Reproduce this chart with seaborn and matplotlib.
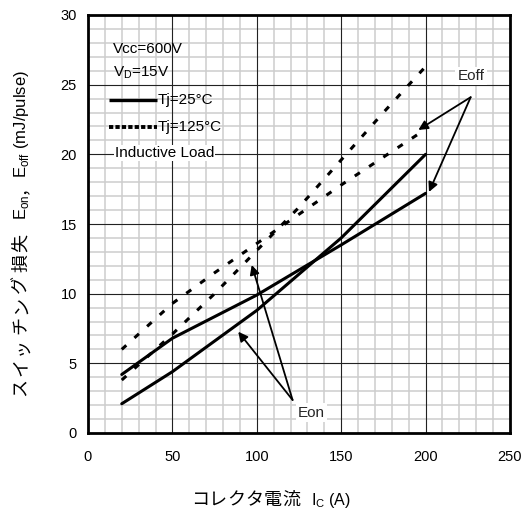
import matplotlib
matplotlib.use("Agg")
import matplotlib.pyplot as plt
import numpy as np
import pandas as pd
import seaborn as sns

# Collector current (A) and switching loss per pulse (mJ)
ic_a = [20, 50, 75, 100, 125, 150, 175, 200]
eon_25 = [2.1, 4.4, 6.6, 8.8, 11.4, 14.0, 17.0, 20.0]
eoff_25 = [4.2, 6.8, 8.35, 9.9, 11.7, 13.5, 15.35, 17.2]
eon_125 = [3.8, 7.1, 10.0, 13.1, 16.2, 19.6, 23.0, 26.3]
eoff_125 = [6.0, 9.3, 11.5, 13.6, 15.7, 17.8, 19.8, 21.8]

x_ticks = [0, 50, 100, 150, 200, 250]
y_ticks = [0, 5, 10, 15, 20, 25, 30]

LATIN = ["Liberation Sans", "DejaVu Sans"]
CJK = ["Noto Sans CJK JP", "DejaVu Sans"]

sns.set_theme(style="white")
plt.rcParams["font.family"] = LATIN
plt.rcParams["mathtext.fontset"] = "custom"
plt.rcParams["mathtext.rm"] = "Liberation Sans"

curves = [("Eon", "25", eon_25), ("Eoff", "25", eoff_25),
          ("Eon", "125", eon_125), ("Eoff", "125", eoff_125)]
df = pd.concat([
    pd.DataFrame({"Ic": ic_a, "E": vals, "curve": f"{kind}_{tj}", "Tj": tj})
    for kind, tj, vals in curves
], ignore_index=True)

W, H = 526, 513
fig = plt.figure(figsize=(W / 100, H / 100), dpi=100)
ax = fig.add_axes([88 / W, 1 - 433 / H, 422 / W, 418 / H])

sns.lineplot(data=df, x="Ic", y="E", units="curve", estimator=None,
             style="Tj", dashes={"25": "", "125": (2, 3.6)},
             color="black", linewidth=2.2, legend=False, ax=ax, zorder=3)

ax.set_xlim(0, 250)
ax.set_ylim(0, 30)
ax.set_xticks(x_ticks)
ax.set_yticks(y_ticks)
ax.set_xticks(np.arange(0, 251, 10), minor=True)
ax.set_yticks(np.arange(0, 31, 1), minor=True)
# fine grid behind, coarse grid drawn above it so crossings stay dark
ax.grid(which="minor", color="#cdcdcd", linewidth=1.1)
ax.grid(which="major", visible=False)
for v in x_ticks[1:-1]:
    ax.axvline(v, color="#222222", linewidth=0.8, zorder=1)
for v in y_ticks[1:-1]:
    ax.axhline(v, color="#222222", linewidth=0.8, zorder=1)
ax.set_axisbelow(True)
ax.tick_params(which="both", length=0, labelsize=10.5, colors="black")
ax.tick_params(axis="x", pad=12)
ax.tick_params(axis="y", pad=8)
ax.set_xlabel("")
ax.set_ylabel("")
for sp in ax.spines.values():
    sp.set_color("black")
    sp.set_linewidth(2.0)
    sp.set_zorder(6)

# Condition block and line key
txt = dict(fontsize=11, color="black", transform=ax.transAxes, va="center")
ax.text(0.059, 0.919, "Vcc=600V", ha="left", **txt)
ax.text(0.059, 0.861, r"V$_\mathregular{D}$=15V", ha="left", **txt)
ax.plot([0.05, 0.163], [0.797, 0.797], color="black", lw=2.4,
        transform=ax.transAxes, solid_capstyle="butt")
ax.text(0.166, 0.797, "Tj=25°C", ha="left", **txt)
ax.plot([0.05, 0.163], [0.732, 0.732], color="black", lw=2.8,
        linestyle=(0, (1.1, 0.55)), transform=ax.transAxes,
        dash_capstyle="butt")
ax.text(0.166, 0.732, "Tj=125°C", ha="left", **txt)
ax.text(0.064, 0.67, "Inductive Load", ha="left",
        bbox=dict(facecolor="white", edgecolor="none", pad=0.5), **txt)

# Curve callouts
arrow = dict(arrowstyle="-|>", color="black", lw=1.3, mutation_scale=14,
             shrinkA=0, shrinkB=0)
ax.text(226.9, 25.6, "Eoff", fontsize=11, ha="center", va="center",
        bbox=dict(facecolor="white", edgecolor="none", pad=1.5), zorder=4)
for head in [(195.7, 21.75), (202.0, 17.3)]:
    ax.annotate("", xy=head, xytext=(226.7, 24.1), arrowprops=arrow, zorder=5)
ax.text(132.5, 1.47, "Eon", fontsize=11, ha="center", va="center",
        bbox=dict(facecolor="white", edgecolor="none", pad=1.5), zorder=4)
for head in [(89.0, 7.27), (97.0, 12.06)]:
    ax.annotate("", xy=head, xytext=(121.2, 2.37), arrowprops=arrow, zorder=5)


def cjk(s, size, track, after):
    """Full-width glyphs, one piece each, advancing by one em plus tracking."""
    em = size * 100 / 72
    out = [(c, CJK, size, track, em) for c in s]
    out[-1] = (s[-1], CJK, size, after, em)
    return out


def chain_label(pieces, cx, cy, rotation):
    """Lay out text pieces (text, family, size, gap_after, advance) on one
    baseline.  advance=None means the measured extent is used.

    cx, cy are pixel positions (top-down); for horizontal labels cy is the
    baseline and cx the centre, for vertical labels cx is the baseline and
    cy the centre."""
    renderer = fig.canvas.get_renderer()
    items = []
    for s, fam, size, gap, adv in pieces:
        t = fig.text(0, 0, s, fontsize=size, family=fam, rotation=rotation,
                     rotation_mode="anchor", ha="left", va="baseline",
                     color="black")
        if adv is None:
            bb = t.get_window_extent(renderer)
            adv = bb.height if rotation else bb.width
        items.append((t, adv, gap))
    total = sum(l + g for _, l, g in items) - items[-1][2]
    if rotation:
        pos = cy + total / 2
        for t, l, g in items:
            t.set_position((cx / W, 1 - pos / H))
            pos -= l + g
    else:
        pos = cx - total / 2
        for t, l, g in items:
            t.set_position((pos / W, 1 - cy / H))
            pos += l + g


chain_label(cjk("コレクタ電流", 13, 0.3, 11)
            + [(r"I$_\mathregular{C}$ (A)", LATIN, 11.5, 0, None)],
            271, 505, 0)
chain_label(cjk("スイッチング損失", 13, 2.6, 14)
            + [(r"E$_\mathregular{on}$", LATIN, 12, 0, None)]
            + cjk("，", 12, 0, 0)
            + [(r"E$_\mathregular{off}$ (mJ/pulse)", LATIN, 12, 0, None)],
            26, 233, 90)

fig.savefig("out.png", dpi=100, facecolor="white")
